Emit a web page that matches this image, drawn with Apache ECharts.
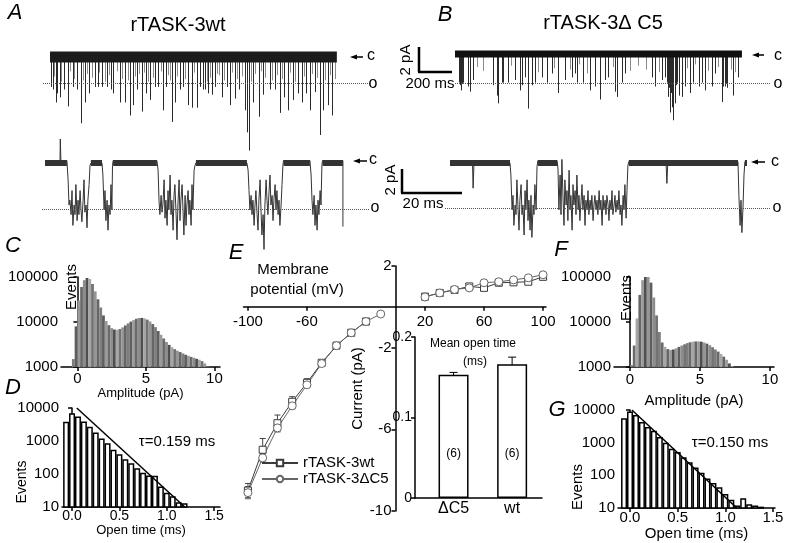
<!DOCTYPE html>
<html><head><meta charset="utf-8">
<script src="https://cdn.jsdelivr.net/npm/echarts/dist/echarts.min.js"></script>
<style>html,body{margin:0;padding:0;background:#fff}#c{width:789px;height:543px}</style>
</head><body><div id="c"></div>
<script>
// ---------- DATA ----------
// A/B top: 1.8 s recordings; open events (time in ms, peak current in pA, closed level = 0)
const wtLongDuration = 1800;
const wtLongEventTime = [6,19,38,44,63,88,113,144,169,194,219,245,282,301,326,357,382,395,439,470,502,520,545,577,602,627,658,677,708,727,765,784,815,834,865,890,922,941,959,972,991,1016,1035,1078,1110,1129,1160,1185,1223,1235,1248,1273,1310,1336,1379,1411,1442,1473,1492,1524,1555,1580,1611,1630,1662,1693,1712,1743,1774];
const wtLongEventAmp = [-2.3,-2.5,-3.5,-2.8,-3.1,-2.5,-3.8,-2.3,-2.5,-5.1,-3.5,-2.8,-2.3,-2.3,-2.3,-2.3,-2.5,-2.8,-3.5,-3.5,-4.5,-3.7,-2.5,-4.2,-2.8,-3.3,-2.3,-2.3,-4.1,-2.3,-5.0,-3.5,-2.5,-2.3,-3.7,-3.9,-3.9,-2.3,-2.5,-2.5,-2.8,-2.9,-2.3,-3.1,-2.3,-3.7,-3.2,-2.5,-4.1,-5.8,-7.2,-3.5,-4.6,-2.9,-2.5,-2.5,-4.3,-3.1,-4.1,-3.3,-2.8,-3.5,-2.8,-4.1,-2.7,-6.0,-4.1,-3.7,-4.5];
const wtLongSmallTime = [28,72,128,155,208,232,265,312,345,370,420,452,488,535,560,590,615,645,695,740,755,800,850,905,985,1003,1050,1065,1095,1145,1172,1205,1260,1290,1325,1350,1395,1425,1460,1505,1540,1595,1645,1680,1725,1760,1790];
const wtLongSmallAmp = [-1.5,-1.9,-1.1,-1.7,-1.8,-1.3,-1.6,-1.2,-1.9,-1.4,-1.1,-1.7,-1.8,-1.5,-1.3,-1.2,-1.9,-1.6,-1.1,-1.4,-1.8,-1.5,-1.7,-1.2,-1.9,-1.6,-1.3,-1.4,-1.8,-1.2,-1.7,-1.5,-1.9,-1.3,-1.1,-1.6,-1.8,-1.4,-1.7,-1.2,-1.9,-1.5,-1.3,-1.6,-1.8,-1.4,-1.7];
const c5LongDuration = 1800;
const c5LongEventTime = [25,38,50,82,94,113,238,263,270,295,301,332,376,408,420,439,458,483,502,545,577,608,646,690,734,752,765,803,846,878,909,940,959,1003,1016,1047,1066,1235,1254,1298,1317,1329,1335,1348,1361,1367,1379,1392,1404,1423,1442,1473,1492,1530,1549,1568,1611,1630,1674,1693,1706,1743,1774,30,44,266,1341,1355,1386,1681,1700];
const c5LongEventAmp = [-2.2,-2.8,-2.2,-2.5,-2.9,-2.0,-2.4,-3.0,-3.8,-2.2,-2.2,-2.2,-2.0,-2.8,-2.4,-1.8,-4.2,-2.4,-2.2,-1.8,-2.2,-1.5,-3.0,-2.0,-1.8,-1.5,-2.2,-2.2,-2.8,-2.5,-3.5,-2.0,-1.8,-2.9,-3.3,-2.2,-1.5,-1.8,-2.5,-2.0,-1.8,-2.2,-3.3,-4.5,-4.1,-5.1,-3.8,-2.2,-3.2,-3.3,-2.5,-3.0,-2.2,-2.5,-2.2,-2.8,-2.5,-1.5,-3.7,-2.5,-2.6,-3.2,-1.8,-2.4,-2.3,-3.2,-2.6,-3.0,-2.4,-2.5,-2.3];
const c5LongSmallTime = [140,180,350,520,625,720,780,830,990,1100,1150,1200,1280,1460,1510,1590,1650,1730,1760];
const c5LongSmallAmp = [-1.0,-1.3,-0.9,-1.4,-1.1,-1.2,-0.8,-1.5,-1.0,-1.3,-0.9,-1.2,-1.4,-1.1,-0.8,-1.3,-1.0,-1.2,-1.4];
const wtLongOpen = -2.0, c5LongOpen = -2.23;

// A/B bottom: 100 ms expanded recordings [time ms, current pA]
const wtFastTrace = [[0,0.1],[5,0.2],[5.1,2.0],[5.3,0.2],[7.3,0.2],
[7.7,-1.4],[8,-3.5],[8.3,-3.1],[8.7,-4.3],[9,-2.3],[9.3,-5.2],[9.7,-3.5],[10,-4.3],[10.3,-1.8],[10.7,-4.8],[11,-3.1],[11.3,-4.3],[11.7,-2.3],[12,-3.9],[12.3,-4.9],[12.7,-3.1],[13,-1.4],[13.3,-4.1],[13.7,-3.5],[14,-5.4],[14.3,-3.1],[14.7,-1.8],[15,-0.2],
[15.3,0],[19,0],
[19.3,-1.0],[19.7,-3.9],[20,-2.3],[20.3,-4.8],[20.7,-3.1],[21,-5.6],[21.3,-3.5],[21.7,-4.3],[22,-1.8],[22.3,-3.9],[22.5,-0.2],
[22.7,0.2],[37.3,0.2],
[37.7,-0.6],[38,-3.1],[38.3,-4.3],[38.7,-2.7],[39,-4.1],[39.3,-3.5],[39.7,-1.4],[40,-4.6],[40.3,-3.1],[40.7,-5.2],[41,-2.3],[41.3,-3.9],[41.7,-1.0],[42,-4.3],[42.3,-3.1],[42.7,-5.6],[43,-2.7],[43.3,-1.8],[43.7,-4.3],[44,-6.4],[44.3,-3.5],[44.7,-1.4],[45,-4.8],[45.3,-3.1],[45.7,-1.8],[46,-3.9],[46.3,-6.0],[46.7,-2.7],[47,-5.2],[47.3,-3.5],[47.7,-2.3],[48,-4.3],[48.3,-3.1],[48.7,-5.2],[49,-1.8],[49.3,-3.9],[49.7,-0.6],[50,-0.2],
[50.3,0],[67.3,0],
[67.7,-0.6],[68,-2.3],[68.3,-3.9],[68.7,-2.7],[69,-4.3],[69.3,-3.1],[69.7,-5.2],[70,-3.5],[70.3,-2.3],[70.7,-4.3],[71,-5.6],[71.3,-3.1],[71.7,-1.4],[72,-3.9],[72.3,-6.0],[72.7,-4.3],[73,-7.2],[73.3,-3.5],[73.7,-1.4],[74,-3.1],[74.3,-4.3],[74.7,-2.3],[75,-1.0],[75.3,-3.5],[75.7,-2.7],[76,-4.8],[76.3,-3.1],[76.7,-1.8],[77,-3.9],[77.3,-2.3],[77.7,-4.3],[78,-3.1],[78.3,-5.2],[78.7,-3.5],[79,-1.8],[79.3,-0.2],
[79.5,0.2],[88.3,0.2],
[88.7,-1.0],[89,-3.1],[89.3,-4.3],[89.7,-2.7],[90,-5.2],[90.3,-3.5],[90.7,-5.6],[91,-3.1],[91.3,-4.3],[91.7,-2.3],[92,-3.5],[92.3,-0.2],
[92.5,0.2],[99.3,0.2],[99.3,-5.3]];
const wtClosedSegments = [[0,7.3],[15.3,19],[22.7,37.3],[50.3,67.3],[79.5,88.3],[92.5,99.3]];
const c5FastTrace = [[0,0],[7.5,0],[7.7,-2.1],[8.0,0],[20,0],
[20.3,-1.0],[20.7,-3.9],[21,-2.7],[21.3,-5.2],[21.7,-3.5],[22,-4.3],[22.3,-1.4],[22.7,-3.9],[23,-5.6],[23.3,-3.1],[23.7,-1.8],[24,-4.3],[24.3,-3.5],[24.7,-6.0],[25,-2.3],[25.3,-3.9],[25.7,-1.4],[26,-4.8],[26.3,-3.1],[26.7,-5.6],[27,-2.7],[27.3,-6.2],[27.7,-3.5],[28,-4.3],[28.3,-1.8],[28.7,-3.9],[29,-0.3],
[29.3,0.2],[35.7,0.2],
[36,-0.5],[36.3,-3.9],[36.7,-1.0],[37,-4.3],[37.3,0.3],[37.7,-3.1],[38,-5.2],[38.3,-1.4],[38.7,-3.5],[39,-2.3],[39.3,-4.8],[39.7,-0.6],[40,-3.9],[40.3,-2.7],[40.7,-5.6],[41,-1.8],[41.3,-3.5],[41.7,-2.3],[42,-4.3],[42.3,-1.0],[42.7,-3.9],[43,-2.7],[43.3,-4.8],[43.7,-3.1],[44,-1.8],[44.3,-3.9],[44.7,-2.7],[45,-5.2],[45.3,-3.1],[45.7,-3.9],[46,-2.3],[46.3,-4.3],[46.7,-3.1],[47,-3.9],[47.3,-2.7],[47.7,-4.8],[48,-3.5],[48.3,-2.7],[48.7,-3.9],[49,-3.1],[49.3,-4.3],[49.7,-2.3],[50,-3.9],[50.3,-3.1],[50.7,-5.2],[51,-2.7],[51.3,-3.9],[51.7,-3.1],[52,-4.3],[52.3,-2.7],[52.7,-3.5],[53,-4.8],[53.3,-3.1],[53.7,-3.9],[54,-2.3],[54.3,-4.3],[54.7,-3.5],[55,-2.7],[55.3,-4.1],[55.7,-3.1],[56,-3.9],[56.3,-2.3],[56.7,-4.3],[57,-3.5],[57.3,-5.2],[57.7,-2.7],[58,-3.9],[58.3,-1.8],[58.7,-4.6],[59,-2.3],[59.3,-0.2],
[59.6,0.1],[72,0.1],[72.3,-1.7],[72.6,0.1],[96,0.1],
[96.3,-2.7],[96.7,-5.2],[97,-3.1],[97.3,-5.8],[97.7,-3.5],[98,-1.0],[98.3,0.1],[99,0.1]];
const c5ClosedSegments = [[0,20],[29.3,35.7],[59.6,96],[98.3,99]];
const wtFastOpen = -3.83, c5FastOpen = -3.75;

// C / F: amplitude histograms (bin centre pA, events)
const ampBinsC = [-0.3,-0.1,0.1,0.3,0.5,0.7,0.9,1.1,1.3,1.5,1.7,1.9,2.1,2.3,2.5,2.7,2.9,3.1,3.3,3.5,3.7,3.9,4.1,4.3,4.5,4.7,4.9,5.1,5.3,5.5,5.7,5.9,6.1,6.3,6.5,6.7,6.9,7.1,7.3,7.5,7.7,7.9,8.1,8.3,8.5,8.7,8.9,9.1,9.3,9.5];
const ampCountsC = [1500,8000,30000,60000,85000,95000,90000,70000,48000,32000,21000,14000,10500,8500,7300,6800,6700,7000,7600,8400,9300,10200,11000,11800,12300,12300,12000,11300,10300,9000,7700,6300,5200,4300,3600,3100,2750,2500,2300,2150,2000,1870,1780,1680,1600,1520,1450,1350,1200,1050];
const ampBinsF = [0.1,0.3,0.5,0.7,0.9,1.1,1.3,1.5,1.7,1.9,2.1,2.3,2.5,2.7,2.9,3.1,3.3,3.5,3.7,3.9,4.1,4.3,4.5,4.7,4.9,5.1,5.3,5.5,5.7,5.9,6.1,6.3,6.5,6.7,6.9,7.1,7.3];
const ampCountsF = [1100,3000,12000,40000,85000,118000,115000,75000,35000,14000,6000,3500,2800,2500,2400,2450,2600,2800,3000,3200,3400,3550,3650,3700,3700,3650,3500,3300,3050,2750,2450,2200,1950,1700,1450,1200,1050];

// D / G: open-time histograms (bin centre ms, events) and exponential fits
const openBins = [-0.0625,0,0.0625,0.125,0.1875,0.25,0.3125,0.375,0.4375,0.5,0.5625,0.625,0.6875,0.75,0.8125,0.875,0.9375,1.0,1.0625,1.125,1.1875,1.25,1.3125,1.375];
const openCountsD = [3850,6900,5500,3900,2700,1800,1200,850,540,400,280,210,150,110,90,88,42,27,21,14,13];
const openCountsG = [5600,9000,7000,4300,3000,2300,1500,1000,650,520,360,250,175,120,80,58,43,27,18,12,20,13,12,11];
const fitD = [[0.05,10000],[1.19,10]];
const fitG = [[0.02,10000],[1.12,10]];

// E: I-V relation (mV, pA, SEM)
const wtV   = [-100,-90,-80,-70,-60,-50,-40,-30,-20,20,30,40,50,60,70,80,90,100];
const wtI   = [-9.0,-7.0,-5.7,-4.65,-3.72,-2.74,-1.9,-1.27,-0.72,0.5,0.68,0.83,1.0,0.93,1.18,1.2,1.23,1.47];
const wtErr = [0.35,0.55,0.4,0.25,0.2,0.1,0.08,0.06,0.05,0.05,0.05,0.05,0.06,0.06,0.06,0.07,0.07,0.08];
const c5V   = [-100,-90,-80,-70,-60,-50,-40,-30,-20,-10,20,30,40,50,60,70,80,90,100];
const c5I   = [-9.1,-7.4,-5.93,-4.85,-3.82,-2.78,-1.9,-1.27,-0.72,-0.35,0.48,0.68,0.85,0.93,1.18,1.23,1.32,1.42,1.57];
const c5Err = [0.3,0.2,0.2,0.15,0.12,0.08,0.06,0.05,0.05,0.04,0.05,0.05,0.05,0.06,0.06,0.07,0.07,0.08,0.08];

// E inset: mean open time
const inCats = ['ΔC5','wt'];
const inPos = [1,2];
const meanOpen = [0.153,0.166];
const meanOpenErr = [0.003,0.009];
const nCells = [6,6];

// ---------- CHART ----------
const FF = '"Liberation Sans", Arial, Helvetica, sans-serif';
const grays = ['#7d7d7d','#5e5e5e','#9a9a9a','#6a6a6a','#8c8c8c','#4f4f4f','#a6a6a6','#737373','#959595','#666666'];
const chart = echarts.init(document.getElementById('c'), null, {renderer:'canvas'});

function g(left, top, width, height){ return {left, top, width, height, containLabel:false, outerBoundsMode:'none'}; }
const grids = [
  g(43,40,327,112),    // 0 A top
  g(455,40,315,112),   // 1 B top
  g(42,133,328,120),   // 2 A bottom
  g(445,133,325,120),  // 3 B bottom
  g(61,277,159,90),    // 4 C
  g(62,408,158,99),    // 5 D
  g(243.5,266,302.5,245), // 6 E
  g(415,337,127,161),  // 7 inset
  g(614,277,160,90),   // 8 F
  g(618,410,157,98)    // 9 G
];
const AX = {show:true, lineStyle:{color:'#000', width:1.5}};
const TK = {show:true, length:4, lineStyle:{color:'#000', width:1.5}};
const LB = {color:'#000', fontSize:15, fontFamily:FF};
const hid = (gi,min,max)=>({type:'value', gridIndex:gi, min, max, show:false, splitLine:{show:false}});
const logFmt = v => String(Math.round(v));

const xAxis = [
  hid(0,-44,2008), hid(1,0,1976), hid(2,-1,108.33), hid(3,-1.67,106.67),
  {type:'value', gridIndex:4, min:-1.2, max:10.41, axisLine:AX, axisTick:Object.assign({customValues:[0,5,10]},TK),
   axisLabel:Object.assign({customValues:[0,5,10], margin:4},LB), splitLine:{show:false},
   name:'Amplitude (pA)', nameLocation:'middle', nameGap:16, nameTextStyle:{fontSize:13, fontFamily:FF, color:'#000'}},
  {type:'value', gridIndex:5, min:-0.106, max:1.562, axisLine:AX, axisTick:Object.assign({customValues:[0,0.5,1,1.5]},TK),
   axisLabel:Object.assign({customValues:[0,0.5,1,1.5], margin:2, formatter:v=>v.toFixed(1)},LB,{fontSize:14}), splitLine:{show:false},
   name:'Open time (ms)', nameLocation:'middle', nameGap:14, nameTextStyle:{fontSize:13, fontFamily:FF, color:'#000'}},
  // E voltage axis, placed on I = 0
  {type:'value', gridIndex:6, min:-103, max:102, position:'bottom', offset:-204.2,
   axisLine:Object.assign({onZero:false},AX),
   axisTick:Object.assign({customValues:[-100,-60,20,60,100]},TK),
   axisLabel:Object.assign({customValues:[-100,-60,20,60,100], margin:8},LB), splitLine:{show:false}},
  {type:'value', gridIndex:7, min:0.342, max:2.51, axisLine:AX, axisTick:{show:false},
   axisLabel:Object.assign({customValues:inPos, margin:3, formatter:v=>inCats[Math.round(v)-1]},LB,{fontSize:16}), splitLine:{show:false}},
  {type:'value', gridIndex:8, min:-1.143, max:10.29, axisLine:AX, axisTick:Object.assign({customValues:[0,5,10]},TK),
   axisLabel:Object.assign({customValues:[0,5,10], margin:5},LB), splitLine:{show:false},
   name:'Amplitude (pA)', nameLocation:'middle', nameGap:26, nameTextStyle:{fontSize:15, fontFamily:FF, color:'#000'}},
  {type:'value', gridIndex:9, min:-0.126, max:1.521, axisLine:AX, axisTick:Object.assign({customValues:[0,0.5,1,1.5]},TK),
   axisLabel:Object.assign({customValues:[0,0.5,1,1.5], margin:2, formatter:v=>v.toFixed(1)},LB), splitLine:{show:false},
   name:'Open time (ms)', nameLocation:'middle', nameGap:16, nameTextStyle:{fontSize:15, fontFamily:FF, color:'#000'}}
];
const yAxis = [
  hid(0,-7.31,1.31), hid(1,-7.54,1.077), hid(2,-7.5,2.5), hid(3,-7.5,2.5),
  {type:'log', gridIndex:4, min:1000, max:100000, logBase:10, axisLine:AX, axisTick:TK, minorTick:{show:false},
   axisLabel:Object.assign({margin:3, formatter:logFmt},LB), splitLine:{show:false}},
  {type:'log', gridIndex:5, min:10, max:10000, logBase:10, axisLine:AX, axisTick:TK,
   axisLabel:Object.assign({margin:3, formatter:logFmt},LB), splitLine:{show:false}},
  // E current axis, placed on V = 0
  {type:'value', gridIndex:6, min:-10, max:2, position:'left', offset:-152,
   axisLine:Object.assign({onZero:false},AX),
   axisTick:Object.assign({customValues:[2,-2,-6,-10]},TK),
   axisLabel:Object.assign({customValues:[2,-2,-6,-10], margin:4},LB), splitLine:{show:false},
   name:'Current (pA)', nameLocation:'middle', nameGap:30, nameTextStyle:{fontSize:15, fontFamily:FF, color:'#000'}},
  {type:'value', gridIndex:7, min:0, max:0.2, interval:0.1, axisLine:AX, axisTick:TK,
   axisLabel:Object.assign({margin:3, formatter:v=>v===0?'0':v.toFixed(1)},LB,{fontSize:14}), splitLine:{show:false}},
  {type:'log', gridIndex:8, min:1000, max:100000, logBase:10, axisLine:AX, axisTick:TK,
   axisLabel:Object.assign({margin:3, formatter:logFmt},LB), splitLine:{show:false}},
  {type:'log', gridIndex:9, min:10, max:10000, logBase:10, axisLine:AX, axisTick:TK,
   axisLabel:Object.assign({margin:3, formatter:logFmt},LB), splitLine:{show:false}}
];

const openMark = (v)=>({silent:true, symbol:['none','none'], label:{show:false},
  lineStyle:{type:'dotted', color:'#555', width:1}, data:[{yAxis:v}]});
const spikes = (ts, as)=>ts.map((t,i)=>({coords:[[t,0],[t,as[i]]]}));
const bands = (segs)=>segs.map(s=>({coords:[[s[0],0],[s[1],0]]}));
function linesS(gi, data, color, width, z){ return {type:'lines', coordinateSystem:'cartesian2d', xAxisIndex:gi, yAxisIndex:gi,
  data, silent:true, z:z||2, lineStyle:{color, width, opacity:1, curveness:0}, effect:{show:false}}; }
function errS(gi, xs, ys, es, color, cap){
  return {type:'custom', xAxisIndex:gi, yAxisIndex:gi, silent:true, z:2,
    data: xs.map((x,i)=>[x, ys[i]-es[i], ys[i]+es[i]]),
    renderItem:(p,api)=>{
      const x=api.value(0), lo=api.coord([x,api.value(1)]), hi=api.coord([x,api.value(2)]);
      const st={stroke:color, lineWidth:1};
      return {type:'group', children:[
        {type:'line', shape:{x1:lo[0],y1:lo[1],x2:hi[0],y2:hi[1]}, style:st},
        {type:'line', shape:{x1:lo[0]-cap,y1:lo[1],x2:lo[0]+cap,y2:lo[1]}, style:st},
        {type:'line', shape:{x1:hi[0]-cap,y1:hi[1],x2:hi[0]+cap,y2:hi[1]}, style:st}]};
    }};
}
const zip = (xs,ys)=>xs.map((x,i)=>[x,ys[i]]);
const ivLine = (name, pts, sym, size, color)=>({type:'line', name, xAxisIndex:6, yAxisIndex:6, data:pts, symbol:sym, symbolSize:size,
  showAllSymbol:true, silent:true, z:3, lineStyle:{color, width:1}, itemStyle:{color:'#fff', borderColor:color, borderWidth:1}});
const wtPts = zip(wtV, wtI), c5Pts = zip(c5V, c5I);

const series = [
  // A top
  {type:'line', xAxisIndex:0, yAxisIndex:0, data:[[0,0],[wtLongDuration,0]], symbol:'none', silent:true, z:3,
   lineStyle:{color:'#1c1c1c', width:11}, markLine:openMark(wtLongOpen)},
  linesS(0, spikes(wtLongSmallTime, wtLongSmallAmp), '#8a8a8a', 1, 2),
  linesS(0, spikes(wtLongEventTime, wtLongEventAmp), '#2a2a2a', 1, 2),
  // B top
  {type:'line', xAxisIndex:1, yAxisIndex:1, data:[[0,0],[c5LongDuration,0]], symbol:'none', silent:true, z:3,
   lineStyle:{color:'#111', width:7}, markLine:openMark(c5LongOpen)},
  linesS(1, spikes(c5LongSmallTime, c5LongSmallAmp), '#8a8a8a', 1, 2),
  linesS(1, spikes(c5LongEventTime, c5LongEventAmp), '#2a2a2a', 1, 2),
  // A bottom
  {type:'line', xAxisIndex:2, yAxisIndex:2, data:wtFastTrace, symbol:'none', silent:true, z:2,
   lineStyle:{color:'#333', width:1}, markLine:openMark(wtFastOpen)},
  linesS(2, bands(wtClosedSegments), '#333', 6, 3),
  // B bottom
  {type:'line', xAxisIndex:3, yAxisIndex:3, data:c5FastTrace, symbol:'none', silent:true, z:2,
   lineStyle:{color:'#333', width:1}, markLine:openMark(c5FastOpen)},
  linesS(3, bands(c5ClosedSegments), '#333', 6, 3),
  // C
  {type:'bar', xAxisIndex:4, yAxisIndex:4, data:zip(ampBinsC, ampCountsC), barWidth:2.8, clip:true, silent:true,
   itemStyle:{color:p=>grays[p.dataIndex % grays.length]}},
  // D
  {type:'bar', xAxisIndex:5, yAxisIndex:5, data:zip(openBins.slice(0,openCountsD.length), openCountsD), barWidth:6, clip:true, silent:true,
   itemStyle:{color:'#fff', borderColor:'#000', borderWidth:1.5}},
  {type:'line', xAxisIndex:5, yAxisIndex:5, data:fitD, symbol:'none', silent:true, z:4, lineStyle:{color:'#000', width:1.5}},
  // E
  errS(6, wtV, wtI, wtErr, '#444', 3),
  errS(6, c5V, c5I, c5Err, '#666', 3),
  ivLine('rTASK-3wt', wtPts.filter(p=>p[0]<0), 'rect', 7, '#3a3a3a'),
  ivLine('rTASK-3wt', wtPts.filter(p=>p[0]>0), 'rect', 7, '#3a3a3a'),
  ivLine('rTASK-3ΔC5', c5Pts.filter(p=>p[0]<0), 'circle', 8, '#666'),
  ivLine('rTASK-3ΔC5', c5Pts.filter(p=>p[0]>0), 'circle', 8, '#666'),
  // inset
  {type:'bar', xAxisIndex:7, yAxisIndex:7, data:zip(inPos, meanOpen), barWidth:30, silent:true,
   itemStyle:{color:'#fff', borderColor:'#000', borderWidth:1.5},
   label:{show:true, position:'insideBottom', distance:38, fontSize:12, fontFamily:FF, color:'#000',
     formatter:p=>'('+nCells[p.dataIndex]+')'}},
  errS(7, inPos, meanOpen, meanOpenErr, '#000', 4),
  // F
  {type:'bar', xAxisIndex:8, yAxisIndex:8, data:zip(ampBinsF, ampCountsF), barWidth:2.8, clip:true, silent:true,
   itemStyle:{color:p=>grays[(p.dataIndex*3) % grays.length]}},
  // G
  {type:'bar', xAxisIndex:9, yAxisIndex:9, data:zip(openBins, openCountsG), barWidth:6, clip:true, silent:true,
   itemStyle:{color:'#fff', borderColor:'#000', borderWidth:1.5}},
  {type:'line', xAxisIndex:9, yAxisIndex:9, data:fitG, symbol:'none', silent:true, z:4, lineStyle:{color:'#000', width:1.5}}
];

// ---------- ANNOTATIONS ----------
function T(x,y,text,size,o){ o=o||{};
  return {type:'text', x, y, rotation:o.rot||0, silent:true, z:10,
    style:{text, font:(o.it?'italic ':'')+size+'px '+FF, fill:'#000', textAlign:'center', align:'center',
      textVerticalAlign:'middle', verticalAlign:'middle'}}; }
function L(x1,y1,x2,y2,w){ return {type:'line', silent:true, z:10, shape:{x1,y1,x2,y2}, style:{stroke:'#000', lineWidth:w||1.5}}; }
function arrow(x1,x2,y){ return [L(x1+4,y,x2,y,1.5), {type:'polygon', silent:true, z:10,
  shape:{points:[[x1,y],[x1+7,y-2.5],[x1+7,y+2.5]]}, style:{fill:'#000'}}]; }
const R = Math.PI/2;
const elements = [
  T(15,13,'A',22,{it:1}), T(445,15,'B',22,{it:1}), T(13,246,'C',22,{it:1}), T(13,388,'D',22,{it:1}),
  T(236,253,'E',22,{it:1}), T(561,250,'F',22,{it:1}), T(557,410,'G',22,{it:1}),
  T(178,25,'rTASK-3wt',20), T(603,23,'rTASK-3Δ C5',20),
  ...arrow(350,363,57), T(371,56,'c',16), T(373,84,'o',16),
  ...arrow(353,367,161), T(373,160,'c',16), T(375,208,'o',16),
  ...arrow(752,764,55), T(778,56,'c',16), T(778,84,'o',16),
  ...arrow(751,765,162), T(775,162,'c',16), T(777,208,'o',16),
  L(419,47,419,72,2.5), L(418,72,452,72,2.5), T(406,60,'2 pA',15,{rot:R}), T(430,84,'200 ms',15),
  L(402,169,402,193,2.5), L(401,193,462,193,2.5), T(391,180,'2 pA',15,{rot:R}), T(423,204,'20 ms',15),
  T(72,287,'Events',15,{rot:R}), T(627,298,'Events',15,{rot:R}), T(22,482,'Events',14,{rot:R}), T(578,487,'Events',15,{rot:R}),
  T(177,442,'τ=0.159 ms',15), T(730,443,'τ=0.150 ms',15),
  T(293,270,'Membrane',15), T(297,290,'potential (mV)',15),
  T(473,344,'Mean open time',12), T(475,362,'(ms)',12)
];

chart.setOption({
  animation:false, backgroundColor:'#fff', textStyle:{fontFamily:FF},
  grid:grids, xAxis, yAxis, series,
  legend:{data:['rTASK-3wt','rTASK-3ΔC5'], orient:'vertical', left:261, top:455, padding:0, itemGap:0,
    itemWidth:36, itemHeight:8, selectedMode:false, textStyle:{fontSize:15, fontFamily:FF, color:'#000', lineHeight:16}},
  graphic:{elements}
});
</script></body></html>
